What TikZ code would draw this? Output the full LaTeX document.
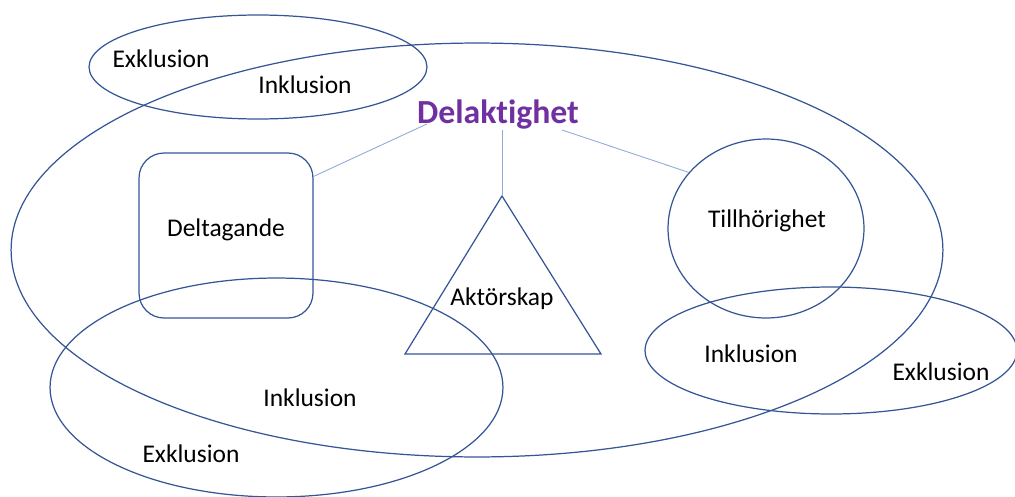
\documentclass[tikz,border=0pt]{standalone}
\usepackage{fontspec}
\setmainfont{Carlito}[Ligatures=NoCommon]
\usetikzlibrary{shapes.geometric}
\definecolor{ringblue}{RGB}{52,86,150}
\definecolor{linkblue}{RGB}{143,170,220}
\definecolor{titlepurple}{RGB}{112,48,160}

\tikzset{
  ring/.style={draw=ringblue, line width=0.7pt, ellipse, inner sep=0pt},
  box/.style={draw=ringblue, line width=0.7pt, rectangle, rounded corners=0.5cm, inner sep=0pt},
  word/.style={font=\fontsize{14.5}{17}\selectfont, inner sep=0pt},
  link/.style={draw=linkblue, line width=0.5pt}
}

\begin{document}
\begin{tikzpicture}[x=0.02cm, y=-0.02cm]
    \useasboundingbox (0,0) rectangle (1015,497);

    \node[ring, minimum width=18.64cm, minimum height=8.28cm] (big) at (477,250) {};
    \node[ring, minimum width=6.76cm, minimum height=2.08cm] (topring) at (258,67) {};
    \node[ring, minimum width=9.06cm, minimum height=4.38cm] (leftring) at (276.5,387.5) {};
    \node[ring, minimum width=7.44cm, minimum height=2.54cm] (rightring) at (831,350.5) {};
    \node[ring, minimum width=3.92cm, minimum height=3.58cm] (bel) at (766,228.5) {};
    \node[box, minimum width=3.48cm, minimum height=3.3cm] (delta) at (226,235.5) {};

    \coordinate (apex) at (502,196);
    \coordinate (tl) at (405,354);
    \coordinate (tr) at (601,354);
    \draw[ringblue, line width=0.7pt] (apex) -- (tl) -- (tr) -- cycle;

    \node[font=\bfseries\fontsize{19.2}{23}\selectfont, text=titlepurple, inner sep=0pt] (delak) at (498,115) {Delaktighet};

    \node[word] (exktop) at (161,59)  {Exklusion};
    \node[word] (inktop) at (305,85)  {Inklusion};
    \node[word] (deltxt) at (226,230) {Deltagande};
    \node[word] (akt)    at (502,299) {Aktörskap};
    \node[word] (till)   at (767,221) {Tillhörighet};
    \node[word] (inkleft)  at (310,398) {Inklusion};
    \node[word] (exkleft)  at (191,454) {Exklusion};
    \node[word] (inkright) at (751,354) {Inklusion};
    \node[word] (exkright) at (941,372) {Exklusion};

    \draw[link] ([shift={(10,-6)}]delak.south west) -- (delta.34);
    \draw[link] (delak.south -| apex) -- (apex);
    \draw[link] ([shift={(-17,0)}]delak.south east) -- (bel.144);
\end{tikzpicture}
\end{document}
